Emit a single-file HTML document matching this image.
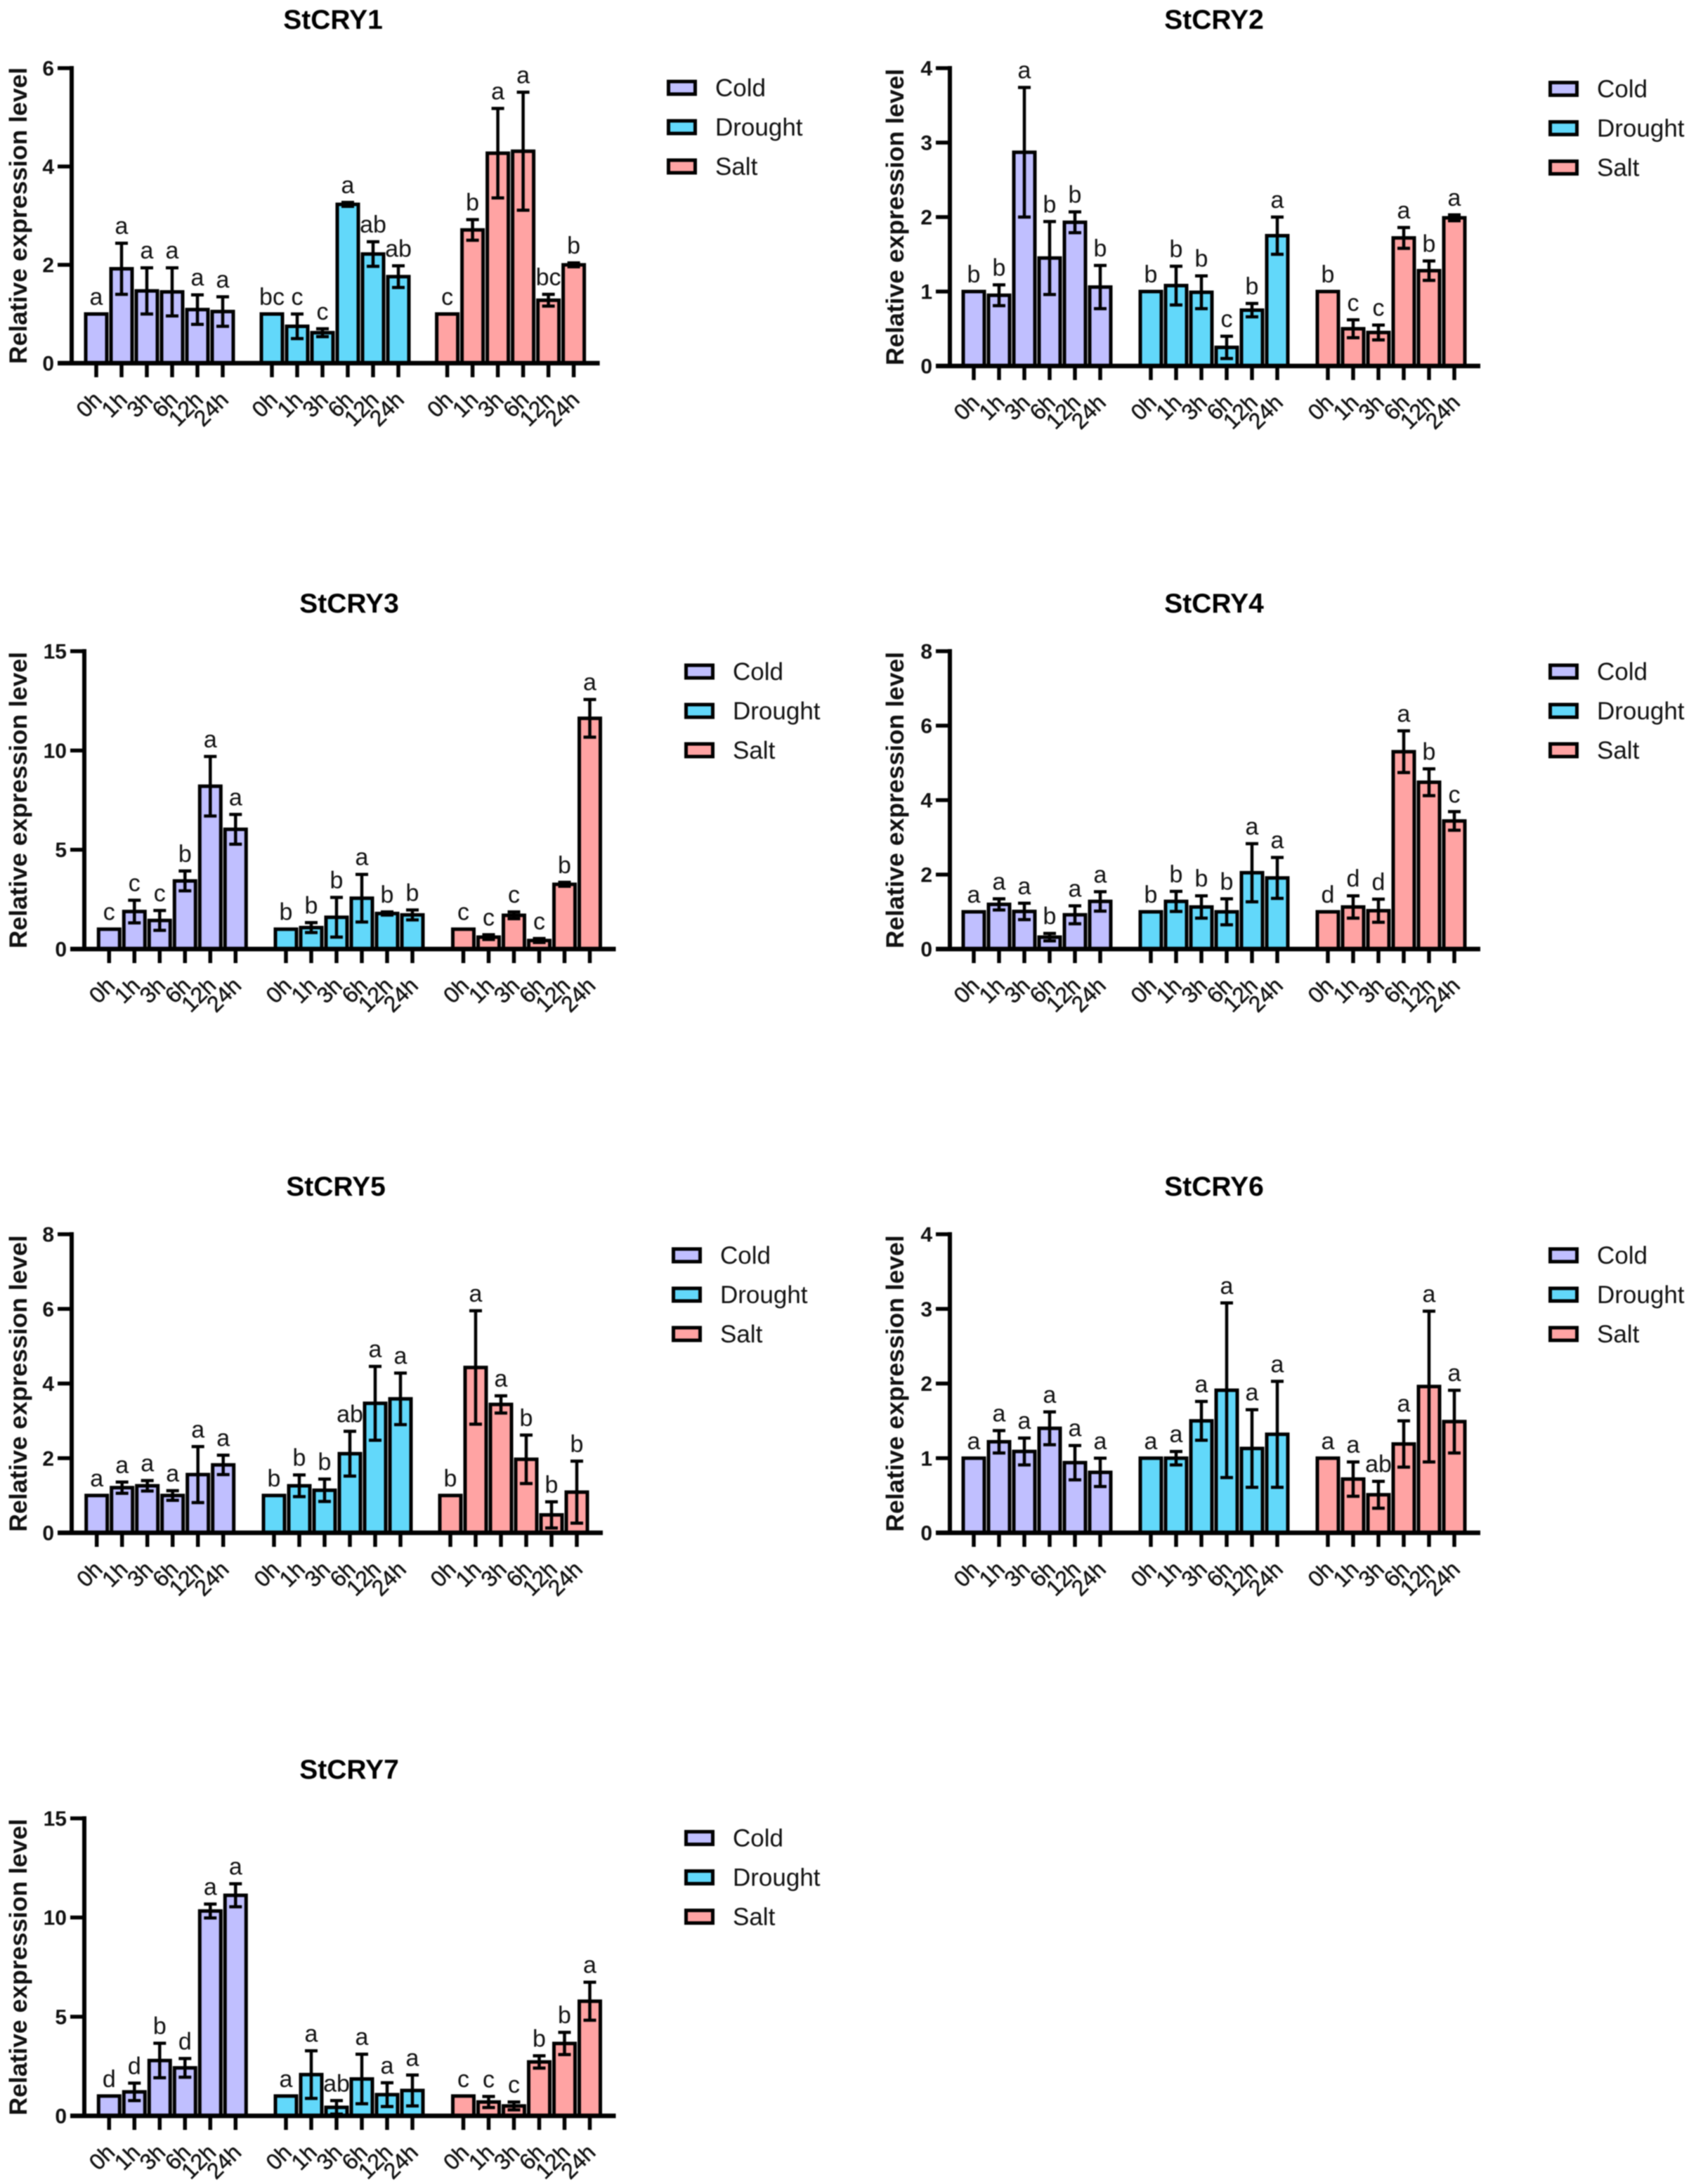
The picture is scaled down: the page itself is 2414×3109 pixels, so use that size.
<!DOCTYPE html>
<html lang="en">
<head>
<meta charset="utf-8">
<title>StCRY relative expression levels</title>
<style>
  html, body { margin: 0; padding: 0; background: #fff; }
  svg { display: block; filter: blur(0.7px); font-family: "Liberation Sans", Arial, sans-serif; }
</style>
</head>
<body>
<svg id="figure" xmlns="http://www.w3.org/2000/svg" width="2414" height="3109" viewBox="0 0 2414 3109"></svg>
<script>
const categories = ['0h', '1h', '3h', '6h', '12h', '24h'];
const treatments = ['Cold', 'Drought', 'Salt'];
const yAxisTitle = 'Relative expression level';

const cry1Ticks = [0, 2, 4, 6];
const cry1Cold = [1.0, 1.92, 1.47, 1.45, 1.09, 1.05];
const cry1Drought = [1.0, 0.75, 0.62, 3.23, 2.22, 1.76];
const cry1Salt = [1.0, 2.71, 4.27, 4.31, 1.28, 2.0];
const cry1ColdErr = [0, 0.52, 0.47, 0.49, 0.3, 0.3];
const cry1DroughtErr = [0, 0.25, 0.08, 0.04, 0.25, 0.22];
const cry1SaltErr = [0, 0.21, 0.91, 1.2, 0.12, 0.04];
const cry1ColdSig = ['a', 'a', 'a', 'a', 'a', 'a'];
const cry1DroughtSig = ['bc', 'c', 'c', 'a', 'ab', 'ab'];
const cry1SaltSig = ['c', 'b', 'a', 'a', 'bc', 'b'];

const cry2Ticks = [0, 1, 2, 3, 4];
const cry2Cold = [1.0, 0.95, 2.87, 1.45, 1.93, 1.06];
const cry2Drought = [1.0, 1.08, 0.99, 0.25, 0.75, 1.75];
const cry2Salt = [1.0, 0.5, 0.45, 1.72, 1.28, 1.99];
const cry2ColdErr = [0, 0.14, 0.87, 0.49, 0.14, 0.29];
const cry2DroughtErr = [0, 0.26, 0.22, 0.15, 0.09, 0.25];
const cry2SaltErr = [0, 0.12, 0.1, 0.14, 0.13, 0.04];
const cry2ColdSig = ['b', 'b', 'a', 'b', 'b', 'b'];
const cry2DroughtSig = ['b', 'b', 'b', 'c', 'b', 'a'];
const cry2SaltSig = ['b', 'c', 'c', 'a', 'b', 'a'];

const cry3Ticks = [0, 5, 10, 15];
const cry3Cold = [1.0, 1.89, 1.44, 3.43, 8.2, 6.03];
const cry3Drought = [1.0, 1.08, 1.6, 2.56, 1.79, 1.72];
const cry3Salt = [1.0, 0.6, 1.7, 0.43, 3.26, 11.62];
const cry3ColdErr = [0, 0.57, 0.5, 0.5, 1.5, 0.75];
const cry3DroughtErr = [0, 0.25, 1.0, 1.2, 0.08, 0.25];
const cry3SaltErr = [0, 0.12, 0.17, 0.1, 0.1, 0.95];
const cry3ColdSig = ['c', 'c', 'c', 'b', 'a', 'a'];
const cry3DroughtSig = ['b', 'b', 'b', 'a', 'b', 'b'];
const cry3SaltSig = ['c', 'c', 'c', 'c', 'b', 'a'];

const cry4Ticks = [0, 2, 4, 6, 8];
const cry4Cold = [1.0, 1.2, 1.01, 0.32, 0.92, 1.28];
const cry4Drought = [1.0, 1.28, 1.13, 1.0, 2.05, 1.91];
const cry4Salt = [1.0, 1.13, 1.03, 5.3, 4.48, 3.44];
const cry4ColdErr = [0, 0.15, 0.22, 0.1, 0.24, 0.26];
const cry4DroughtErr = [0, 0.27, 0.3, 0.35, 0.78, 0.55];
const cry4SaltErr = [0, 0.3, 0.31, 0.56, 0.36, 0.25];
const cry4ColdSig = ['a', 'a', 'a', 'b', 'a', 'a'];
const cry4DroughtSig = ['b', 'b', 'b', 'b', 'a', 'a'];
const cry4SaltSig = ['d', 'd', 'd', 'a', 'b', 'c'];

const cry5Ticks = [0, 2, 4, 6, 8];
const cry5Cold = [1.0, 1.21, 1.26, 1.0, 1.56, 1.82];
const cry5Drought = [1.0, 1.26, 1.14, 2.12, 3.47, 3.59];
const cry5Salt = [1.0, 4.43, 3.44, 1.97, 0.48, 1.09];
const cry5ColdErr = [0, 0.15, 0.14, 0.13, 0.75, 0.26];
const cry5DroughtErr = [0, 0.29, 0.3, 0.6, 0.99, 0.69];
const cry5SaltErr = [0, 1.52, 0.23, 0.65, 0.35, 0.83];
const cry5ColdSig = ['a', 'a', 'a', 'a', 'a', 'a'];
const cry5DroughtSig = ['b', 'b', 'b', 'ab', 'a', 'a'];
const cry5SaltSig = ['b', 'a', 'a', 'b', 'b', 'b'];

const cry6Ticks = [0, 1, 2, 3, 4];
const cry6Cold = [1.0, 1.22, 1.09, 1.4, 0.94, 0.81];
const cry6Drought = [1.0, 1.0, 1.5, 1.91, 1.13, 1.32];
const cry6Salt = [1.0, 0.72, 0.51, 1.19, 1.96, 1.49];
const cry6ColdErr = [0, 0.15, 0.18, 0.22, 0.23, 0.19];
const cry6DroughtErr = [0, 0.09, 0.26, 1.17, 0.52, 0.71];
const cry6SaltErr = [0, 0.23, 0.18, 0.31, 1.01, 0.42];
const cry6ColdSig = ['a', 'a', 'a', 'a', 'a', 'a'];
const cry6DroughtSig = ['a', 'a', 'a', 'a', 'a', 'a'];
const cry6SaltSig = ['a', 'a', 'ab', 'a', 'a', 'a'];

const cry7Ticks = [0, 5, 10, 15];
const cry7Cold = [1.0, 1.21, 2.79, 2.42, 10.33, 11.12];
const cry7Drought = [1.0, 2.08, 0.43, 1.86, 1.07, 1.28];
const cry7Salt = [1.0, 0.7, 0.5, 2.72, 3.65, 5.78];
const cry7ColdErr = [0, 0.44, 0.87, 0.47, 0.35, 0.58];
const cry7DroughtErr = [0, 1.2, 0.34, 1.25, 0.6, 0.78];
const cry7SaltErr = [0, 0.28, 0.2, 0.31, 0.56, 0.96];
const cry7ColdSig = ['d', 'd', 'b', 'd', 'a', 'a'];
const cry7DroughtSig = ['a', 'a', 'ab', 'a', 'a', 'a'];
const cry7SaltSig = ['c', 'c', 'c', 'b', 'b', 'a'];

const fills = { Cold: '#c0bfff', Drought: '#62d8fa', Salt: '#ffa3a3' };
const INK = '#000000';
const STEP = 36;
const NS = 'http://www.w3.org/2000/svg';
const figure = document.getElementById('figure');

function node(tag, attrs, parent) {
  const el = document.createElementNS(NS, tag);
  for (const k in attrs) el.setAttribute(k, attrs[k]);
  parent.appendChild(el);
  return el;
}

function drawPanel(title, ticks, means, errors, letters, box) {
  const slug = title.toLowerCase();
  const maxTick = ticks[ticks.length - 1];
  const yScale = v => box.base - (v / maxTick) * (box.base - box.top);
  const xScale = (g, i) => box.groups[g] + i * STEP;
  const right = box.groups[2] + 5 * STEP + 37;

  const panel = node('g', {}, figure);
  
  

  const head = node('text', { x: box.titleX, y: box.titleY, 'text-anchor': 'middle', 'font-size': 39, 'font-weight': 'bold', fill: INK }, panel);
  
  
  head.textContent = title;

  const yMid = (box.top + box.base) / 2;
  const yTitle = node('text', { x: 0, y: 0, 'text-anchor': 'middle', 'font-size': 35.5, 'font-weight': 'bold', fill: '#111', transform: 'translate(' + box.yTitleX + ',' + yMid + ') rotate(-90)' }, panel);
  
  
  yTitle.textContent = yAxisTitle;

  treatments.forEach((name, g) => {
    means[g].forEach((value, i) => {
      const cx = xScale(g, i);
      const yTop = yScale(value);
      const bar = node('rect', { x: cx - 15, y: yTop, width: 30, height: box.base - yTop, fill: fills[name], stroke: INK, 'stroke-width': 5 }, panel);
      
      

      const err = errors[g][i];
      const yHigh = yScale(value + err);
      const yLow = yScale(value - err);
      if (err > 0) {
        const whisker = node('path', { d: 'M' + cx + ' ' + yHigh + 'V' + yLow + 'M' + (cx - 9) + ' ' + yHigh + 'H' + (cx + 9) + 'M' + (cx - 9) + ' ' + yLow + 'H' + (cx + 9), fill: 'none', stroke: INK, 'stroke-width': 4.5 }, panel);
        
        
      }

      const sig = node('text', { x: cx, y: yHigh - 13, 'text-anchor': 'middle', 'font-size': 34, fill: '#111' }, panel);
      
      
      sig.textContent = letters[g][i];

      const tickMark = node('line', { x1: cx, x2: cx, y1: box.base, y2: box.base + 20, stroke: INK, 'stroke-width': 5.5 }, panel);
      
      

      const lx = cx + 10;
      const ly = box.base + 54;
      const cat = node('text', { x: 0, y: 0, 'text-anchor': 'end', 'font-size': 32, fill: '#111', stroke: '#111', 'stroke-width': 0.5, transform: 'translate(' + lx + ',' + ly + ') rotate(-45)' }, panel);
      
      
      cat.textContent = categories[i];
    });
  });

  const yAxis = node('line', { x1: box.axisX, x2: box.axisX, y1: box.top - 3, y2: box.base + 3, stroke: INK, 'stroke-width': 6 }, panel);
  
  

  const xAxis = node('line', { x1: box.axisX - 20, x2: right, y1: box.base, y2: box.base, stroke: INK, 'stroke-width': 6.5 }, panel);
  
  

  ticks.forEach(t => {
    const y = yScale(t);
    const mark = node('line', { x1: box.axisX - 20, x2: box.axisX, y1: y, y2: y, stroke: INK, 'stroke-width': 5.5 }, panel);
    
    
    const label = node('text', { x: box.axisX - 25, y: y + 10.5, 'text-anchor': 'end', 'font-size': 30, 'font-weight': 'bold', fill: '#111' }, panel);
    
    
    label.textContent = t;
  });

  treatments.forEach((name, g) => {
    const rowY = box.legendY + g * 56;
    const swatch = node('rect', { x: box.legendX + 2.5, y: rowY - 9, width: 38, height: 18, fill: fills[name], stroke: INK, 'stroke-width': 5 }, panel);
    
    
    const entry = node('text', { x: box.legendX + 69, y: rowY + 12, 'font-size': 35, fill: '#111' }, panel);
    
    
    entry.textContent = name;
  });
}

drawPanel('StCRY1', cry1Ticks, [cry1Cold, cry1Drought, cry1Salt], [cry1ColdErr, cry1DroughtErr, cry1SaltErr], [cry1ColdSig, cry1DroughtSig, cry1SaltSig],
  { axisX: 102, top: 97, base: 517, groups: [137, 387, 636.6], titleX: 474, titleY: 41, yTitleX: 38, legendX: 949, legendY: 125 });
drawPanel('StCRY2', cry2Ticks, [cry2Cold, cry2Drought, cry2Salt], [cry2ColdErr, cry2DroughtErr, cry2SaltErr], [cry2ColdSig, cry2DroughtSig, cry2SaltSig],
  { axisX: 1352, top: 97, base: 521, groups: [1386, 1638, 1890], titleX: 1728, titleY: 41, yTitleX: 1286, legendX: 2204, legendY: 126.5 });
drawPanel('StCRY3', cry3Ticks, [cry3Cold, cry3Drought, cry3Salt], [cry3ColdErr, cry3DroughtErr, cry3SaltErr], [cry3ColdSig, cry3DroughtSig, cry3SaltSig],
  { axisX: 120, top: 927, base: 1351, groups: [155.3, 407, 659.5], titleX: 497, titleY: 872, yTitleX: 38, legendX: 974, legendY: 956 });
drawPanel('StCRY4', cry4Ticks, [cry4Cold, cry4Drought, cry4Salt], [cry4ColdErr, cry4DroughtErr, cry4SaltErr], [cry4ColdSig, cry4DroughtSig, cry4SaltSig],
  { axisX: 1352, top: 927, base: 1351, groups: [1386, 1638, 1890], titleX: 1728, titleY: 872, yTitleX: 1286, legendX: 2204, legendY: 956 });
drawPanel('StCRY5', cry5Ticks, [cry5Cold, cry5Drought, cry5Salt], [cry5ColdErr, cry5DroughtErr, cry5SaltErr], [cry5ColdSig, cry5DroughtSig, cry5SaltSig],
  { axisX: 102, top: 1757, base: 2182, groups: [137.7, 390, 641], titleX: 478, titleY: 1702, yTitleX: 38, legendX: 956, legendY: 1787 });
drawPanel('StCRY6', cry6Ticks, [cry6Cold, cry6Drought, cry6Salt], [cry6ColdErr, cry6DroughtErr, cry6SaltErr], [cry6ColdSig, cry6DroughtSig, cry6SaltSig],
  { axisX: 1352, top: 1757, base: 2182, groups: [1386, 1638, 1890], titleX: 1728, titleY: 1702, yTitleX: 1286, legendX: 2204, legendY: 1787 });
drawPanel('StCRY7', cry7Ticks, [cry7Cold, cry7Drought, cry7Salt], [cry7ColdErr, cry7DroughtErr, cry7SaltErr], [cry7ColdSig, cry7DroughtSig, cry7SaltSig],
  { axisX: 120, top: 2588.5, base: 3012, groups: [155.3, 407, 659.5], titleX: 497, titleY: 2532, yTitleX: 38, legendX: 974, legendY: 2616.5 });
</script>
</body>
</html>
